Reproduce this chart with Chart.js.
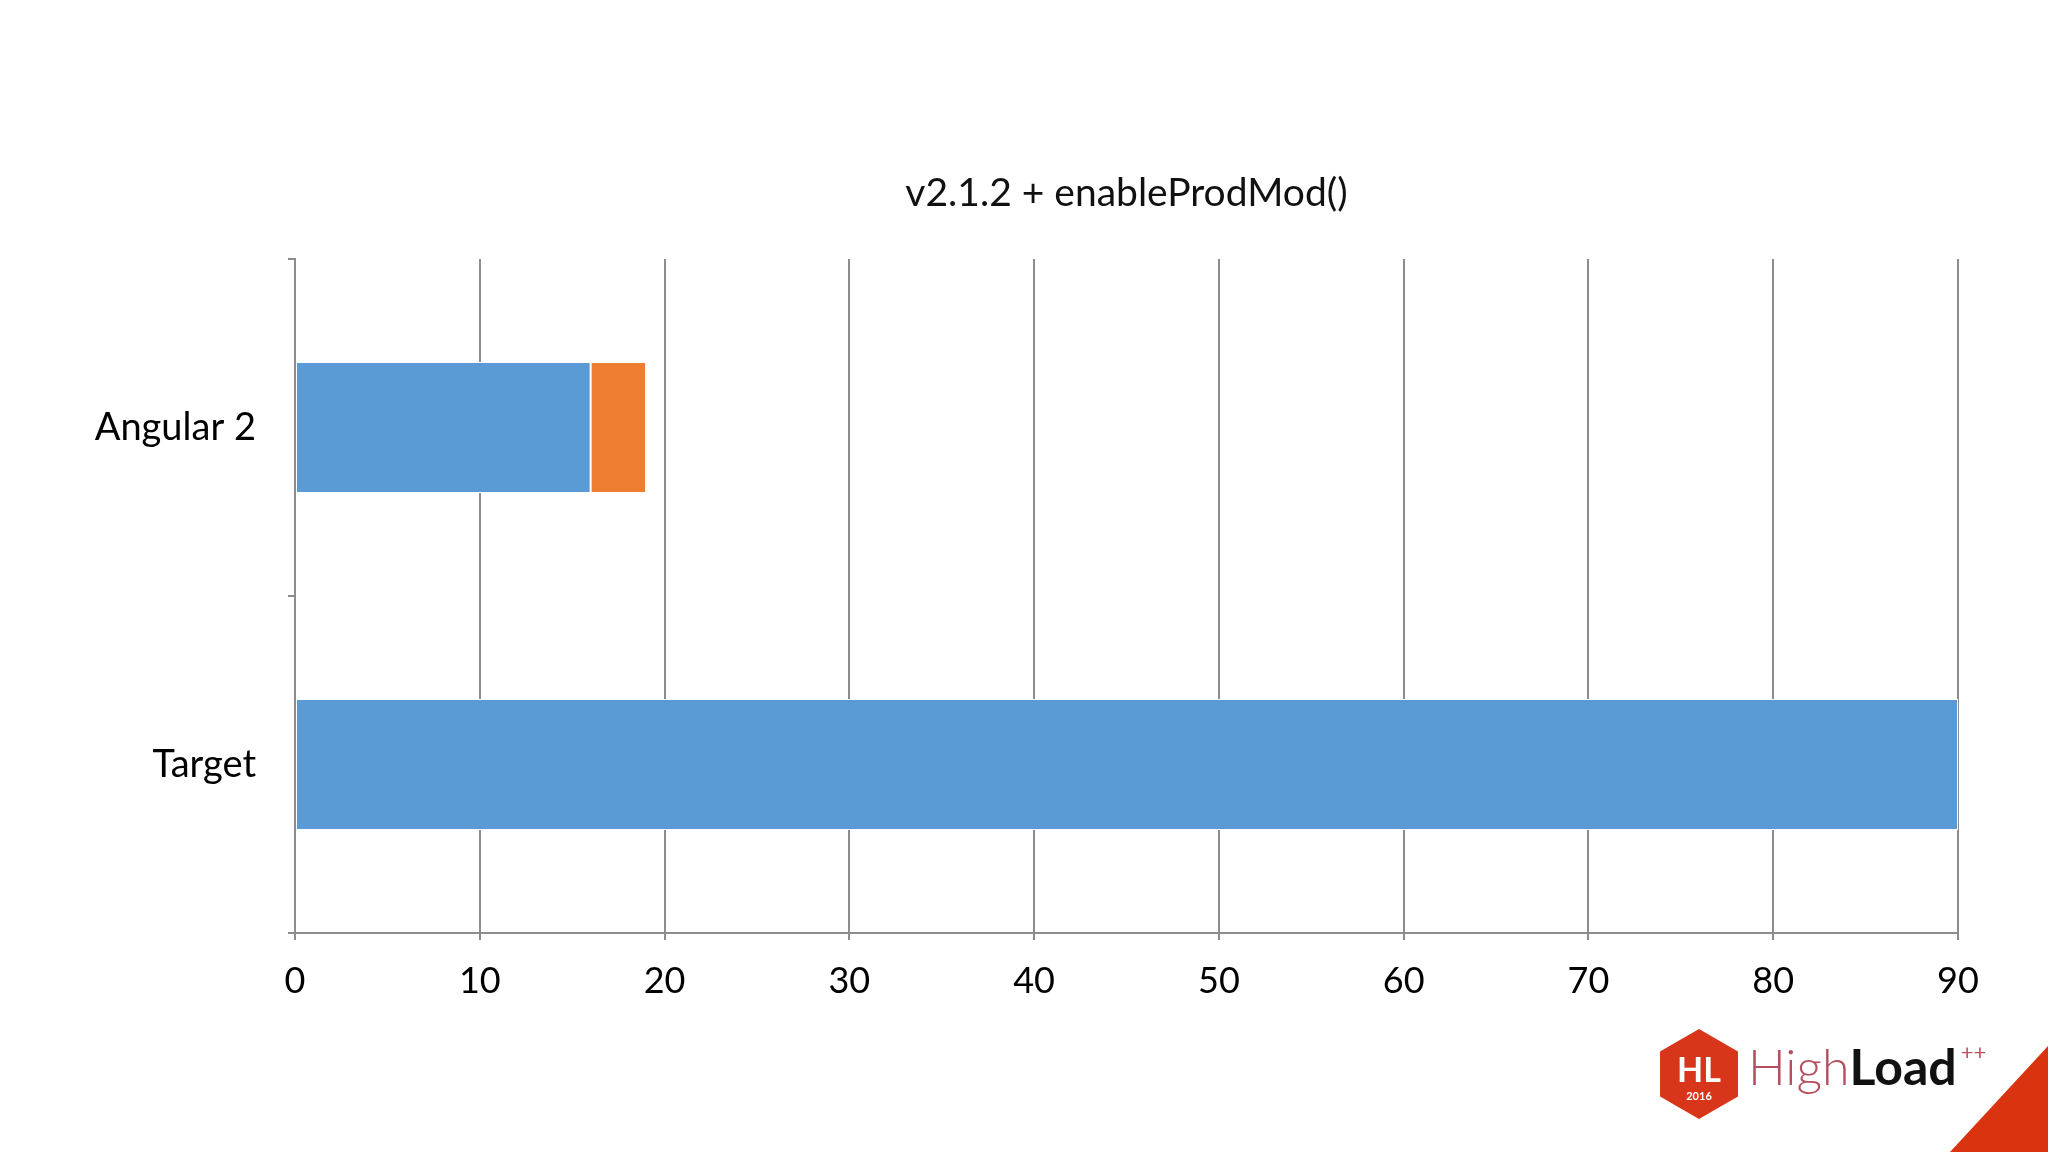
<!DOCTYPE html>
<html>
<head>
<meta charset="utf-8">
<script src="https://cdn.jsdelivr.net/npm/chart.js@4.4.1/dist/chart.umd.min.js"></script>
<style>
  html, body { margin: 0; padding: 0; background: #fff; }
  #wrap { width: 2048px; height: 1152px; }
</style>
</head>
<body>
<div id="wrap"><canvas id="chart"></canvas></div>
<script>
// ── DATA ──
const chartTitle = 'v2.1.2 + enableProdMod()';
const categories = ['Angular 2', 'Target'];
const baseValues = [16, 90];
const extraValues = [3, 0];
const xTicks = [0, 10, 20, 30, 40, 50, 60, 70, 80, 90];

const FONT = "Lato, 'Open Sans', sans-serif";
const GRID = '#8c8c8c';

// title centred over the plot area, like the original slide
const titlePlugin = {
    id: 'plotTitle',
    afterDraw(chart) {
        const { ctx, chartArea } = chart;
        ctx.save();
        ctx.font = `39px ${FONT}`;
        ctx.fillStyle = '#111';
        ctx.textAlign = 'center';
        ctx.textBaseline = 'middle';
        ctx.fillText(chartTitle, (chartArea.left + chartArea.right) / 2, 193);
        ctx.restore();
    }
};

// HighLoad++ logo in the corner
const logoPlugin = {
    id: 'logo',
    afterDraw(chart) {
        const ctx = chart.ctx;
        ctx.save();
        // red corner triangle
        ctx.fillStyle = '#d9330f';
        ctx.beginPath();
        ctx.moveTo(2048, 1046);
        ctx.lineTo(2048, 1152);
        ctx.lineTo(1950, 1152);
        ctx.closePath();
        ctx.fill();
        // hexagon
        const cx = 1699, cy = 1074, r = 45;
        ctx.fillStyle = '#d8361b';
        ctx.beginPath();
        for (let i = 0; i < 6; i++) {
            const a = Math.PI / 3 * i - Math.PI / 2;
            const px = cx + r * Math.cos(a), py = cy + r * Math.sin(a);
            i ? ctx.lineTo(px, py) : ctx.moveTo(px, py);
        }
        ctx.closePath();
        ctx.fill();
        ctx.fillStyle = '#fff';
        ctx.textAlign = 'center';
        ctx.textBaseline = 'alphabetic';
        ctx.font = `bold 34px ${FONT}`;
        ctx.fillText('HL', cx, cy + 8);
        ctx.font = `bold 11px ${FONT}`;
        ctx.fillText('2016', cx, cy + 26);
        // wordmark
        ctx.textAlign = 'left';
        ctx.font = `300 50px ${FONT}`;
        ctx.fillStyle = '#b4505f';
        ctx.fillText('High', 1748, 1085);
        const w = ctx.measureText('High').width;
        ctx.font = `bold 50px ${FONT}`;
        ctx.fillStyle = '#111';
        ctx.fillText('Load', 1748 + w, 1085);
        const w2 = ctx.measureText('Load').width;
        ctx.font = `22px ${FONT}`;
        ctx.fillStyle = '#c0505f';
        ctx.fillText('++', 1748 + w + w2 + 4, 1060);
        ctx.restore();
    }
};

new Chart(document.getElementById('chart'), {
    type: 'bar',
    data: {
        labels: categories,
        datasets: [
            {
                label: 'Base',
                data: baseValues,
                backgroundColor: '#5b9bd5',
                borderColor: '#ffffff',
                borderWidth: 1,
                borderSkipped: false
            },
            {
                label: 'Extra',
                data: extraValues,
                backgroundColor: '#ed7d31',
                borderColor: '#ffffff',
                borderWidth: 1,
                borderSkipped: false
            }
        ]
    },
    options: {
        indexAxis: 'y',
        responsive: true,
        maintainAspectRatio: false,
        animation: false,
        categoryPercentage: 1,
        barPercentage: 0.388,
        layout: { padding: { top: 259, right: 90, bottom: 0, left: 0 } },
        plugins: {
            legend: { display: false },
            title: { display: false },
            tooltip: { enabled: false }
        },
        scales: {
            x: {
                stacked: true,
                min: 0,
                max: 90,
                afterBuildTicks(axis) { axis.ticks = xTicks.map(v => ({ value: v })); },
                grid: { color: GRID, lineWidth: 2, tickLength: 7, tickColor: GRID },
                border: { color: GRID, width: 2 },
                ticks: { color: '#000', font: { family: FONT, size: 36 }, padding: 20, maxRotation: 0 },
                afterFit(axis) { axis.height = 1152 - 933; }
            },
            y: {
                stacked: true,
                offset: true,
                grid: { offset: true, drawOnChartArea: false, color: GRID, lineWidth: 2, tickLength: 7, tickColor: GRID },
                border: { color: GRID, width: 2 },
                ticks: { color: '#000', font: { family: FONT, size: 38 }, padding: 32 },
                afterFit(axis) { axis.width = 295; }
            }
        }
    },
    plugins: [titlePlugin, logoPlugin]
});
</script>
</body>
</html>
